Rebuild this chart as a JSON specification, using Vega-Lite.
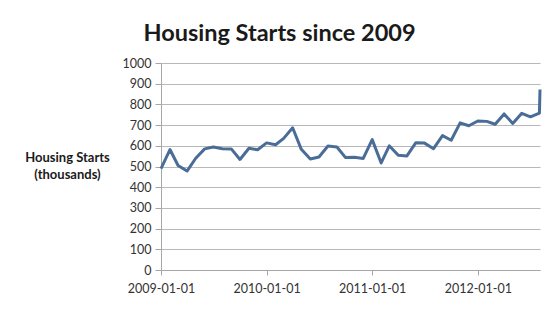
{
  "$schema": "https://vega.github.io/schema/vega-lite/v6.json",
  "width": 379,
  "height": 207,
  "autosize": {"type": "none"},
  "padding": {"left": 161, "top": 63, "right": 20, "bottom": 41},
  "background": "white",
  "title": {
    "text": "Housing Starts since 2009",
    "fontSize": 23.5,
    "fontWeight": "bold",
    "font": "Lato",
    "color": "#1a1a1a",
    "anchor": "middle",
    "dx": -71,
    "offset": 12
  },
  "config": {
    "view": {"stroke": null},
    "axis": {"labelFont": "Lato", "titleFont": "Lato", "labelColor": "#333333", "titleColor": "#1a1a1a"}
  },
  "data": {
    "values": [
      {"date": "2009-01-01", "starts": 490},
      {"date": "2009-02-01", "starts": 582},
      {"date": "2009-03-01", "starts": 505},
      {"date": "2009-04-01", "starts": 478},
      {"date": "2009-05-01", "starts": 540},
      {"date": "2009-06-01", "starts": 585},
      {"date": "2009-07-01", "starts": 594},
      {"date": "2009-08-01", "starts": 586},
      {"date": "2009-09-01", "starts": 585},
      {"date": "2009-10-01", "starts": 534},
      {"date": "2009-11-01", "starts": 588},
      {"date": "2009-12-01", "starts": 581},
      {"date": "2010-01-01", "starts": 614},
      {"date": "2010-02-01", "starts": 605},
      {"date": "2010-03-01", "starts": 636},
      {"date": "2010-04-01", "starts": 687},
      {"date": "2010-05-01", "starts": 583},
      {"date": "2010-06-01", "starts": 536},
      {"date": "2010-07-01", "starts": 546},
      {"date": "2010-08-01", "starts": 599},
      {"date": "2010-09-01", "starts": 594},
      {"date": "2010-10-01", "starts": 543},
      {"date": "2010-11-01", "starts": 545},
      {"date": "2010-12-01", "starts": 539},
      {"date": "2011-01-01", "starts": 630},
      {"date": "2011-02-01", "starts": 517},
      {"date": "2011-03-01", "starts": 600},
      {"date": "2011-04-01", "starts": 554},
      {"date": "2011-05-01", "starts": 551},
      {"date": "2011-06-01", "starts": 615},
      {"date": "2011-07-01", "starts": 613},
      {"date": "2011-08-01", "starts": 586},
      {"date": "2011-09-01", "starts": 649},
      {"date": "2011-10-01", "starts": 627},
      {"date": "2011-11-01", "starts": 711},
      {"date": "2011-12-01", "starts": 697},
      {"date": "2012-01-01", "starts": 720},
      {"date": "2012-02-01", "starts": 718},
      {"date": "2012-03-01", "starts": 704},
      {"date": "2012-04-01", "starts": 754},
      {"date": "2012-05-01", "starts": 708},
      {"date": "2012-06-01", "starts": 757},
      {"date": "2012-07-01", "starts": 740},
      {"date": "2012-08-01", "starts": 758},
      {"date": "2012-08-03", "starts": 872}
    ]
  },
  "mark": {"type": "line", "color": "#4a6d98", "strokeWidth": 3, "strokeJoin": "round"},
  "encoding": {
    "x": {
      "field": "date",
      "type": "temporal",
      "scale": {"type": "utc", "nice": false},
      "axis": {
        "title": null,
        "values": [1230768000000, 1262304000000, 1293840000000, 1325376000000],
        "labelExpr": "utcFormat(datum.value, '%Y-%m-%d')",
        "grid": false,
        "domain": true,
        "ticks": true,
        "domainColor": "#a6a6a6",
        "tickColor": "#a6a6a6",
        "tickSize": 5,
        "labelPadding": 7,
        "labelFontSize": 12.5,
        "labelFlush": false,
        "labelOverlap": false
      }
    },
    "y": {
      "field": "starts",
      "type": "quantitative",
      "scale": {"domain": [0, 1000], "nice": false},
      "axis": {
        "values": [0, 100, 200, 300, 400, 500, 600, 700, 800, 900, 1000],
        "format": "d",
        "title": ["Housing Starts", "(thousands)"],
        "titleAngle": 0,
        "titleAlign": "center",
        "titleBaseline": "top",
        "titleX": -94,
        "titleY": 88,
        "titleFontSize": 13,
        "titleFontWeight": "bold",
        "titleLineHeight": 17,
        "grid": true,
        "gridColor": "#b8b8b8",
        "gridOpacity": 1,
        "gridWidth": 1,
        "domain": true,
        "ticks": true,
        "domainColor": "#a6a6a6",
        "tickColor": "#a6a6a6",
        "tickSize": 6,
        "labelPadding": 4,
        "labelFontSize": 12.5
      }
    }
  }
}
